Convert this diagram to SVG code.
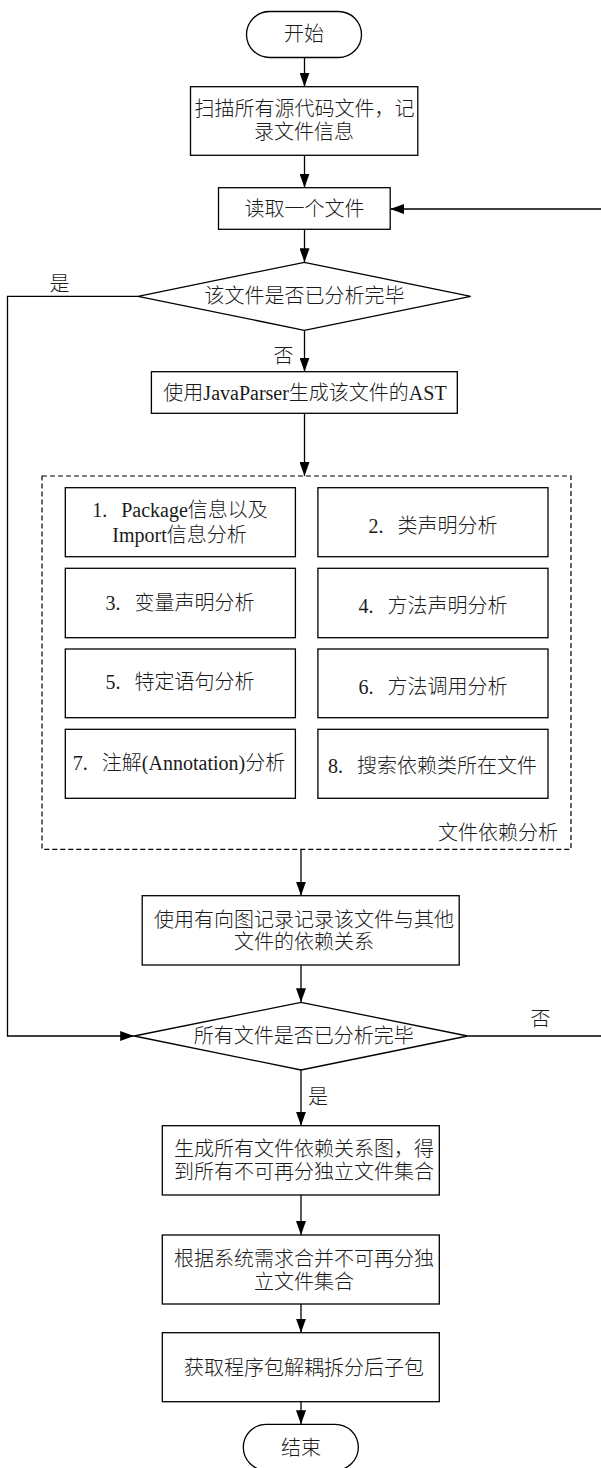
<svg xmlns="http://www.w3.org/2000/svg" width="601" height="1468" viewBox="0 0 601 1468">
<style>
.b{fill:#fff;stroke:#000;stroke-width:1.3}
.c{fill:none;stroke:#000;stroke-width:1.3}
.t{font-family:"Liberation Serif","Noto Sans CJK SC",serif;font-size:20px;font-weight:300;fill:#1a1a1a;text-anchor:middle;dominant-baseline:central}
.d{fill:none;stroke:#000;stroke-width:1.2;stroke-dasharray:5,3}
</style>
<defs>
<marker id="a" markerWidth="14" markerHeight="10" refX="14" refY="5" orient="auto" markerUnits="userSpaceOnUse">
<path d="M0,0 L14,5 L0,10 Z" fill="#000"/>
</marker>
</defs>
<rect width="601" height="1468" fill="#fff"/>
<g id="connectors">
<line class="c" x1="304.5" y1="57.5" x2="304.5" y2="86.7" marker-end="url(#a)"/>
<line class="c" x1="304.5" y1="155.3" x2="304.5" y2="187.7" marker-end="url(#a)"/>
<line class="c" x1="304.5" y1="229.3" x2="304.5" y2="262.3" marker-end="url(#a)"/>
<line class="c" x1="304.5" y1="330.3" x2="304.5" y2="371.7" marker-end="url(#a)"/>
<line class="c" x1="304.5" y1="413.3" x2="304.5" y2="476" marker-end="url(#a)"/>
<path class="c" d="M138,296.3 H7.5 V1036 H134.2" marker-end="url(#a)"/>
<path class="c" d="M467.6,1036 H604 V209 H390.2" marker-end="url(#a)"/>
<line class="c" x1="301" y1="849.3" x2="301" y2="895.7" marker-end="url(#a)"/>
<line class="c" x1="301" y1="965" x2="301" y2="1002.3" marker-end="url(#a)"/>
<line class="c" x1="301" y1="1070" x2="301" y2="1125.7" marker-end="url(#a)"/>
<line class="c" x1="301" y1="1195" x2="301" y2="1235" marker-end="url(#a)"/>
<line class="c" x1="301" y1="1304" x2="301" y2="1332.7" marker-end="url(#a)"/>
<line class="c" x1="301" y1="1401.7" x2="301" y2="1424.3" marker-end="url(#a)"/>
<text class="t" x="59.5" y="283.5">是</text>
<text class="t" x="283.5" y="356">否</text>
<text class="t" x="540.5" y="1019">否</text>
<text class="t" x="318" y="1096.5">是</text>
</g>
<g id="start">
<rect class="b" x="246.5" y="11.5" width="115" height="46" rx="23" ry="23"/>
<text class="t" x="304" y="34">开始</text>
</g>
<g id="scan">
<rect class="b" x="190.5" y="86.7" width="227.3" height="68.6"/>
<text class="t" x="304.5" y="108.5">扫描所有源代码文件，记</text>
<text class="t" x="304" y="131.8">录文件信息</text>
</g>
<g id="read">
<rect class="b" x="218.5" y="187.7" width="171.7" height="41.6"/>
<text class="t" x="304.5" y="209">读取一个文件</text>
</g>
<g id="dec1">
<polygon class="b" points="304.3,262.3 470.7,296.3 304.3,330.3 138,296.3"/>
<text class="t" x="304.5" y="296.3">该文件是否已分析完毕</text>
</g>
<g id="ast">
<rect class="b" x="151.4" y="371.7" width="305.9" height="41.6"/>
<text class="t" x="305" y="392.7">使用JavaParser生成该文件的AST</text>
</g>
<g id="analysis">
<rect class="d" x="42" y="476" width="529" height="373.3"/>
<text class="t" x="558" y="833.3" style="text-anchor:end">文件依赖分析</text>
</g>
<g id="a1">
<rect class="b" x="65.3" y="487.7" width="230.1" height="69"/>
<text class="t" x="180" y="510">1.<tspan dx="14">Package信息以及</tspan></text>
<text class="t" x="179.5" y="535">Import信息分析</text>
</g>
<g id="a2">
<rect class="b" x="317.9" y="487.7" width="230.1" height="69"/>
<text class="t" x="433" y="526">2.<tspan dx="14">类声明分析</tspan></text>
</g>
<g id="a3">
<rect class="b" x="65.3" y="568.3" width="230.1" height="69.4"/>
<text class="t" x="180" y="603.3">3.<tspan dx="14">变量声明分析</tspan></text>
</g>
<g id="a4">
<rect class="b" x="317.9" y="568.3" width="230.1" height="69.4"/>
<text class="t" x="433" y="605.7">4.<tspan dx="14">方法声明分析</tspan></text>
</g>
<g id="a5">
<rect class="b" x="65.3" y="649" width="230.1" height="68.7"/>
<text class="t" x="180" y="682.3">5.<tspan dx="14">特定语句分析</tspan></text>
</g>
<g id="a6">
<rect class="b" x="317.9" y="649" width="230.1" height="68.7"/>
<text class="t" x="433" y="687.3">6.<tspan dx="14">方法调用分析</tspan></text>
</g>
<g id="a7">
<rect class="b" x="65.3" y="729.3" width="230.1" height="69"/>
<text class="t" x="179" y="763.3">7.<tspan dx="14">注解(Annotation)分析</tspan></text>
</g>
<g id="a8">
<rect class="b" x="317.9" y="729.3" width="230.1" height="69"/>
<text class="t" x="432.5" y="766">8.<tspan dx="14">搜索依赖类所在文件</tspan></text>
</g>
<g id="graph">
<rect class="b" x="142.2" y="895.7" width="317" height="69.3"/>
<text class="t" x="304" y="920">使用有向图记录记录该文件与其他</text>
<text class="t" x="304" y="942.3">文件的依赖关系</text>
</g>
<g id="dec2">
<polygon class="b" points="301,1002.3 467.6,1036 301,1070 134.2,1036"/>
<text class="t" x="303.8" y="1036">所有文件是否已分析完毕</text>
</g>
<g id="gen">
<rect class="b" x="162.3" y="1125.7" width="277" height="69.3"/>
<text class="t" x="304" y="1149.3">生成所有文件依赖关系图，得</text>
<text class="t" x="304" y="1171.7">到所有不可再分独立文件集合</text>
</g>
<g id="merge">
<rect class="b" x="162.3" y="1235" width="277" height="69"/>
<text class="t" x="304" y="1259.3">根据系统需求合并不可再分独</text>
<text class="t" x="304" y="1281.7">立文件集合</text>
</g>
<g id="sub">
<rect class="b" x="162.3" y="1332.7" width="277" height="69"/>
<text class="t" x="304" y="1368.3">获取程序包解耦拆分后子包</text>
</g>
<g id="end">
<rect class="b" x="243.3" y="1424.3" width="115" height="46" rx="23" ry="23"/>
<text class="t" x="301" y="1448.3">结束</text>
</g>
</svg>
